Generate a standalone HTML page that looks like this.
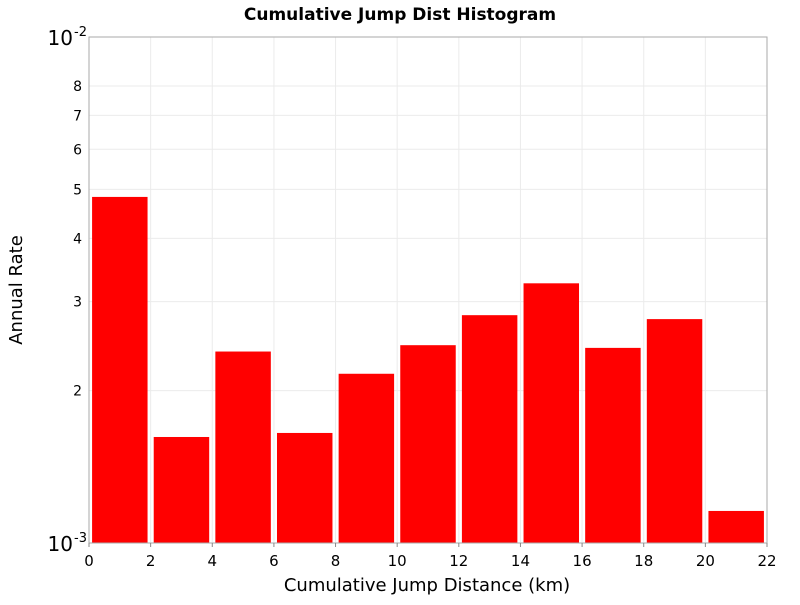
<!DOCTYPE html>
<html><head><meta charset="utf-8"><style>
body{margin:0;background:#fff;font-family:"Liberation Sans","DejaVu Sans",sans-serif}
</style></head><body>
<svg id="chart" width="800" height="600" xmlns="http://www.w3.org/2000/svg">
<rect width="800" height="600" fill="#fff"/>
<text x="400" y="20" text-anchor="middle" font-family="DejaVu Sans, sans-serif" font-weight="bold" font-size="17">Cumulative Jump Dist Histogram</text>
<g id="grid"></g>
<g id="bars"></g>
<rect x="89" y="37" width="678" height="506" fill="none" stroke="#aaa"/>
<g id="axes" font-family="DejaVu Sans, sans-serif" font-size="14"></g>
<text x="427" y="591" text-anchor="middle" font-family="DejaVu Sans, sans-serif" font-size="18">Cumulative Jump Distance (km)</text>
<text transform="translate(22,290) rotate(-90)" text-anchor="middle" font-family="DejaVu Sans, sans-serif" font-size="18">Annual Rate</text>
</svg>
<script>
const binStarts=[0,2,4,6,8,10,12,14,16,18,20];
const rates=[0.00483,0.00162,0.00239,0.00165,0.00216,0.00246,0.00282,0.00326,0.00243,0.00277,0.001157];
const xTicks=[0,2,4,6,8,10,12,14,16,18,20,22];
const yMinor=[2,3,4,5,6,7,8];
const binWidth=2;
const X0=89,X1=767,Y0=543,Y1=37,xMin=0,xMax=22,lMin=-3,lMax=-2;
const ns="http://www.w3.org/2000/svg";
const sx=v=>X0+(v-xMin)/(xMax-xMin)*(X1-X0);
const sy=v=>Y0-(Math.log10(v)-lMin)/(lMax-lMin)*(Y0-Y1);
function mk(t,a,p){const e=document.createElementNS(ns,t);for(const k in a)e.setAttribute(k,a[k]);p.appendChild(e);return e;}
const grid=document.getElementById('grid'),bars=document.getElementById('bars'),axes=document.getElementById('axes');
xTicks.forEach(t=>{
  const l=mk('line',{x1:sx(t),x2:sx(t),y1:Y1,y2:Y0,stroke:'#ebebeb'},grid);
  
  
  const tk=mk('line',{x1:sx(t),x2:sx(t),y1:Y0,y2:Y0+4,stroke:'#888'},axes);
  
  
  const tx=mk('text',{x:sx(t),y:566,'text-anchor':'middle','font-size':15},axes);
  tx.textContent=t;
  
  
});
yMinor.forEach(m=>{
  const v=m*1e-3;
  const l=mk('line',{x1:X0,x2:X1,y1:sy(v),y2:sy(v),stroke:'#ebebeb'},grid);
  
  
  const tx=mk('text',{x:82,y:sy(v)+5,'text-anchor':'end'},axes);
  tx.textContent=m;
  
  
});
[[1e-3,'-3'],[1e-2,'-2']].forEach(([v,e])=>{
  const tx=mk('text',{x:73,y:sy(v)+8,'text-anchor':'end','font-size':20},axes);
  tx.textContent='10';
  
  
  const sp=mk('text',{x:74,y:sy(v)-1,'font-size':13},axes);
  sp.textContent=e;
  
  
});
binStarts.forEach((b,i)=>{
  const xa=sx(b+0.1),xb=sx(b+binWidth-0.1),yt=sy(rates[i]);
  const r=mk('rect',{x:xa,y:yt,width:xb-xa,height:Y0-yt,fill:'#ff0000'},bars);
  
  
});
</script>
</body></html>
